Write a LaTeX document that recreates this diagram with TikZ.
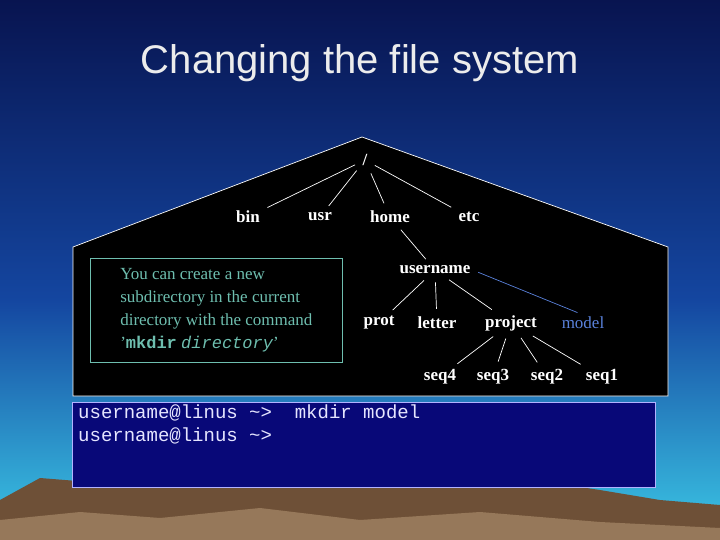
\documentclass[tikz,border=0pt]{standalone}
\usepackage{fontspec}
\setmainfont{Liberation Serif}
\newfontfamily\titlefont{Liberation Sans}
\newfontfamily\monofont{Liberation Mono}
\begin{document}
\begin{tikzpicture}[x=1pt,y=-1pt,
  dir/.style={text=white,font=\bfseries\fontsize{17}{20}\selectfont,inner sep=2pt},
  edge/.style={white,line width=0.7pt,shorten <=6pt,shorten >=6pt}]
\definecolor{topc}{RGB}{8,20,80}
\definecolor{midc}{RGB}{20,70,160}
\definecolor{botc}{RGB}{60,200,230}
\definecolor{teal}{RGB}{110,190,175}
\definecolor{modelc}{RGB}{90,130,220}
\definecolor{term}{RGB}{8,8,120}
\definecolor{mtn}{RGB}{110,80,55}
\definecolor{mtnl}{RGB}{150,120,90}
\useasboundingbox (0,0) rectangle (720,540);
\shade[top color=topc,bottom color=midc] (0,0) rectangle (720,300);
\shade[top color=midc,bottom color=botc] (0,300) rectangle (720,540);
\fill[mtn] (0,540) -- (0,500) -- (40,478) -- (90,482) -- (150,470) -- (200,476) -- (260,468) -- (320,480) -- (380,472) -- (450,486) -- (520,478) -- (600,490) -- (660,500) -- (720,505) -- (720,540) -- cycle;
\fill[mtnl] (0,540) -- (0,520) -- (80,512) -- (160,518) -- (260,508) -- (360,520) -- (480,512) -- (600,522) -- (720,528) -- (720,540) -- cycle;
\node[text=white!85!gray,font=\titlefont\fontsize{40}{44}\selectfont] (title) at (360,63) {Changing the file system};
\draw[white,fill=black,line width=0.7pt] (362,137) -- (668,247) -- (668,396) -- (73,396) -- (73,247) -- cycle;
\node[draw=teal,line width=0.7pt,text=teal,align=left,anchor=north west,minimum width=252pt,minimum height=104pt,inner sep=6pt,font=\fontsize{17}{23}\selectfont] (info) at (90,258) {You can create a new\\subdirectory in the current\\directory with the command\\'{\monofont\bfseries mkdir} {\monofont\itshape directory}'};
\node[dir] (root) at (365,160) {/};
\node[dir] (bin) at (248,217) {bin};
\node[dir] (usr) at (320,217) {usr};
\node[dir] (home) at (390,217) {home};
\node[dir] (etc) at (469,217) {etc};
\node[dir] (user) at (435,270) {username};
\node[dir] (prot) at (379,323) {prot};
\node[dir] (letter) at (437,323) {letter};
\node[dir] (project) at (511,323) {project};
\node[dir,text=modelc,font=\fontsize{17}{20}\selectfont] (model) at (583,323) {model};
\node[dir] (s4) at (440,377) {seq4};
\node[dir] (s3) at (493,377) {seq3};
\node[dir] (s2) at (547,377) {seq2};
\node[dir] (s1) at (602,377) {seq1};
\foreach \c in {bin,usr,home,etc} \draw[edge] (root) -- (\c);
\draw[edge] (home) -- (user);
\foreach \c in {prot,letter,project} \draw[edge] (user) -- (\c);
\draw[edge,modelc] (user.east) -- (model.north);
\foreach \c in {s4,s3,s2,s1} \draw[edge] (project) -- (\c);
\draw[fill=term,draw=white!70!blue,line width=0.7pt] (72,402) rectangle (655,487);
\node[anchor=north west,text=white!90!blue,align=left,font=\monofont\fontsize{19}{23}\selectfont,inner sep=0pt] (cmd) at (78,405) {username@linus \textasciitilde> \ mkdir model\\username@linus \textasciitilde>};
\end{tikzpicture}
\end{document}
